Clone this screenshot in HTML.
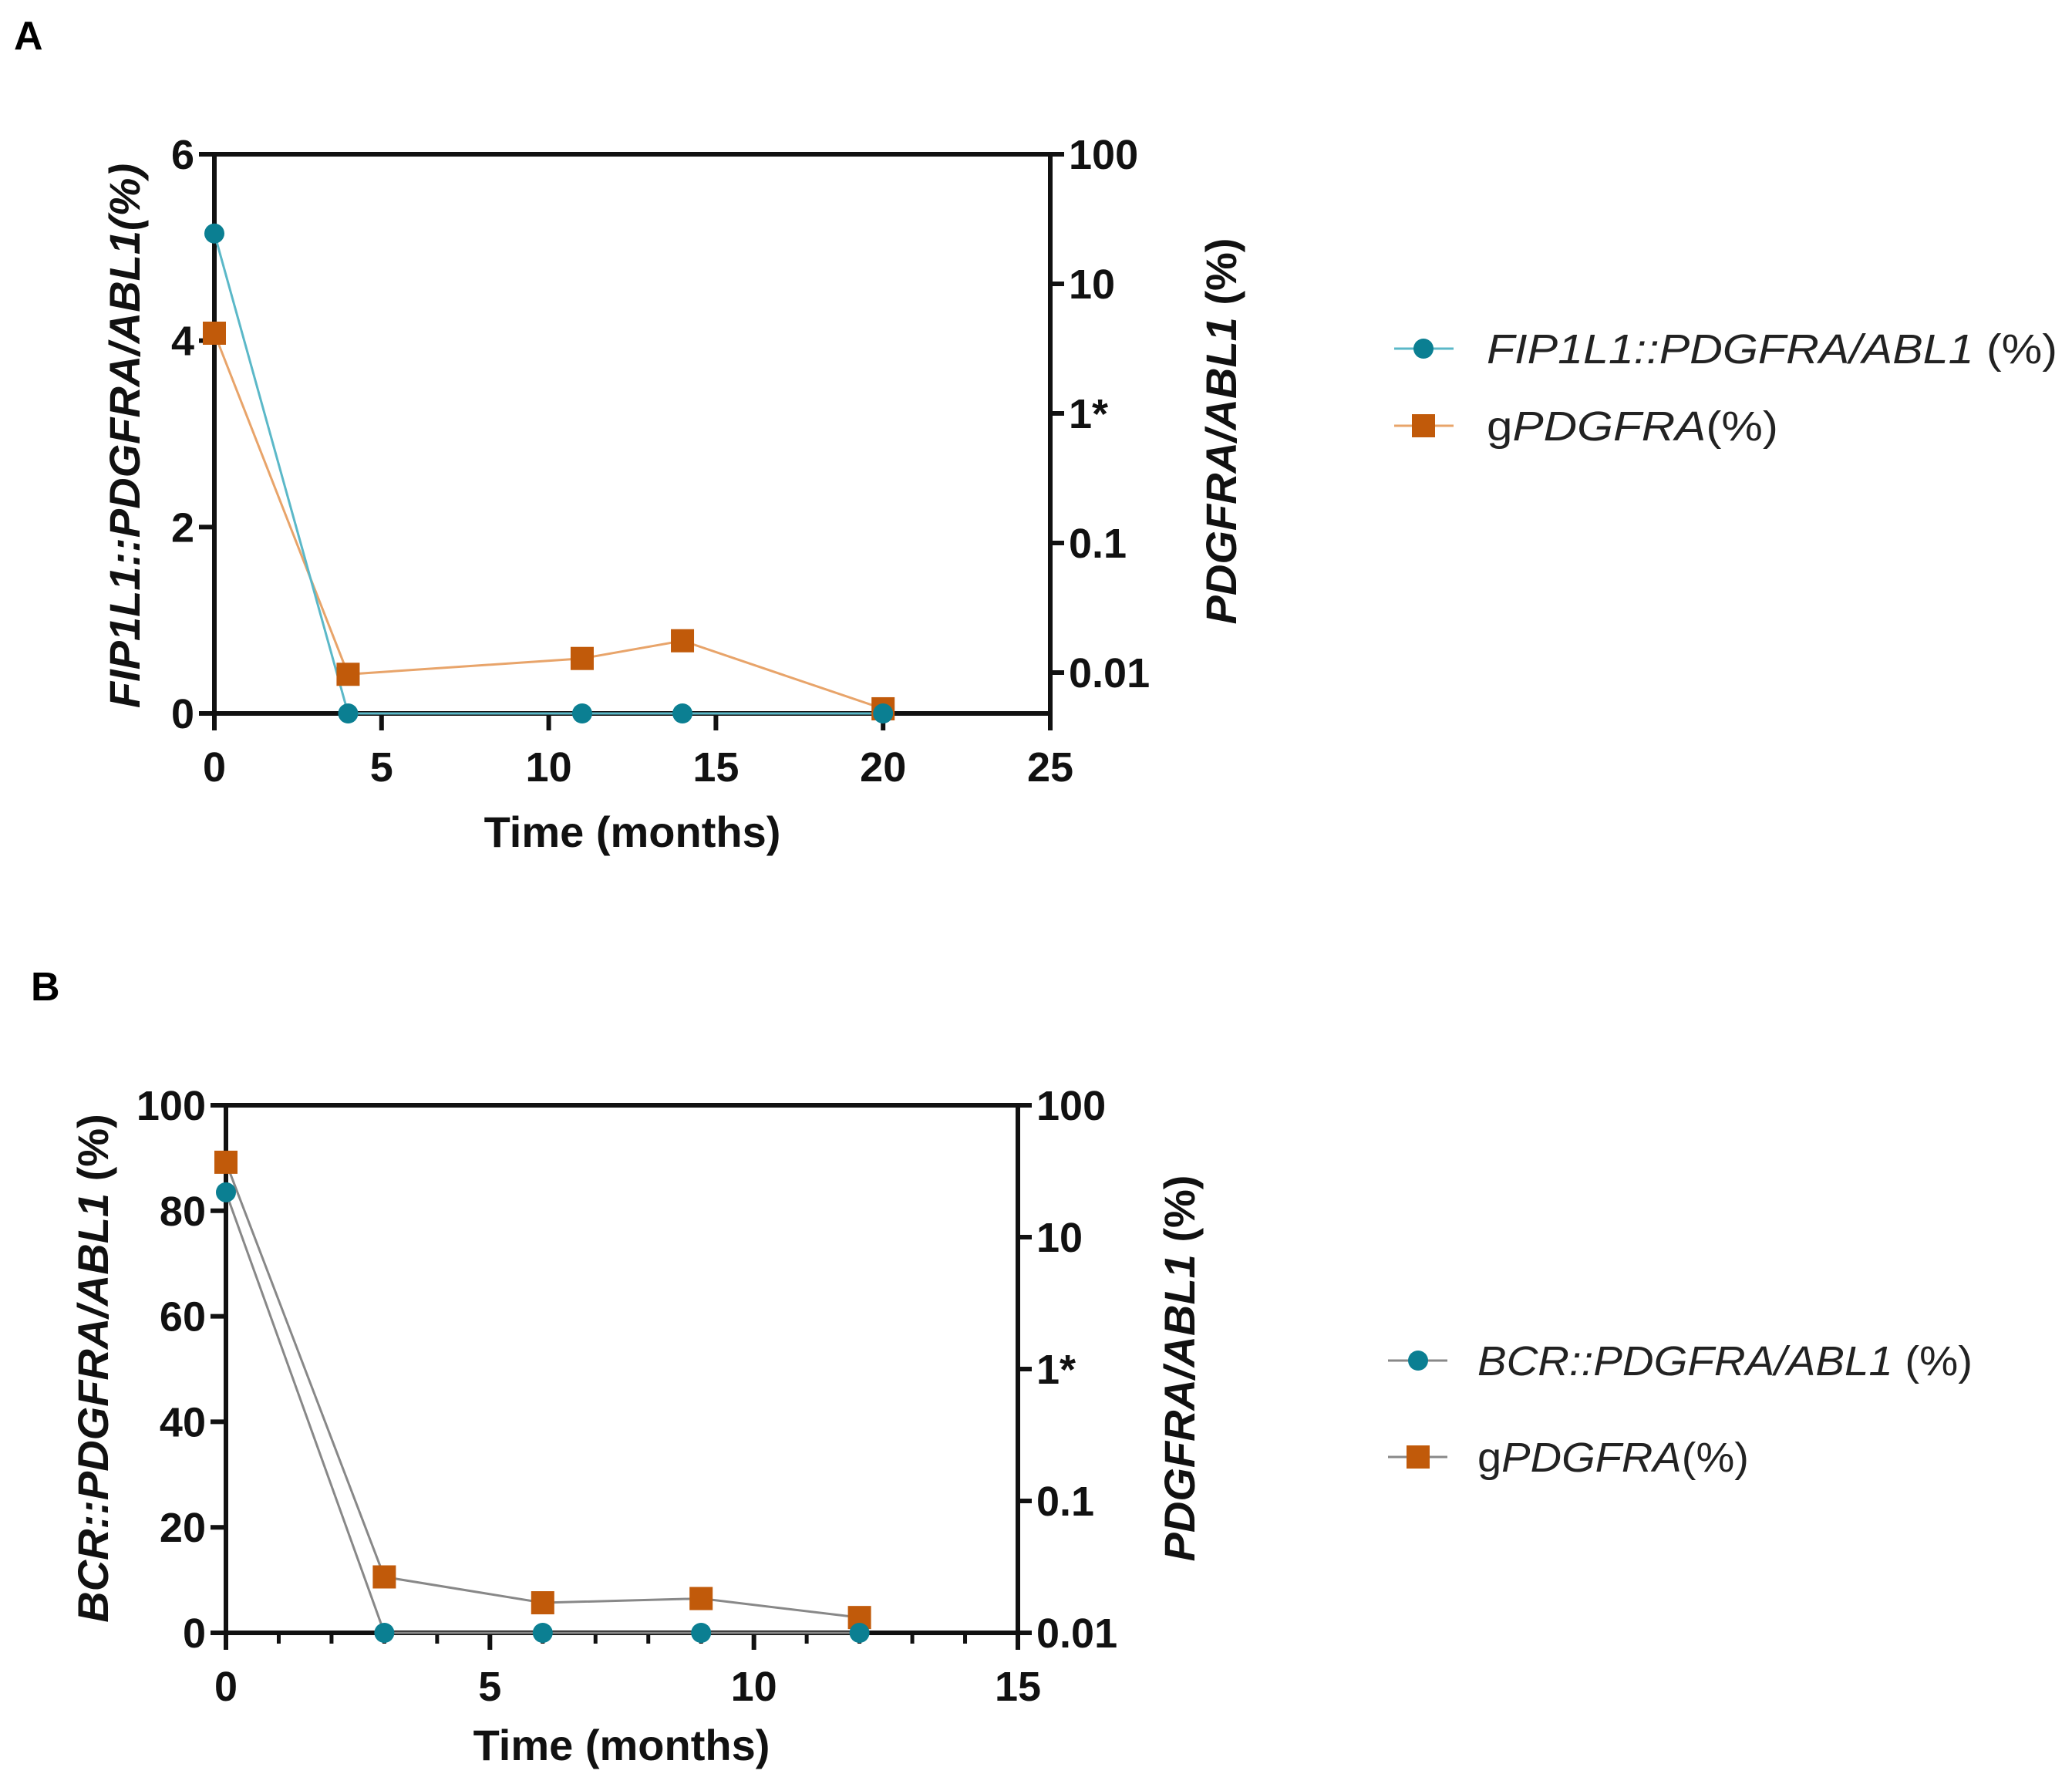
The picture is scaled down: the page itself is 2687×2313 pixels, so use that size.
<!DOCTYPE html>
<html><head><meta charset="utf-8"><style>
html,body{margin:0;padding:0;background:#fff}
svg{display:block}
text{font-family:"Liberation Sans",Arial,sans-serif}
.tk{font-size:54px;font-weight:bold;fill:#111}
.ti{font-size:56px;font-weight:bold;fill:#111}
.lg{font-size:54px;fill:#222}
</style></head><body>
<svg id="svg" width="2687" height="2313" viewBox="0 0 2687 2313" xmlns="http://www.w3.org/2000/svg">
<text x="18" y="64" style="font-size:52px;font-weight:bold">A</text>
<text x="40" y="1297" style="font-size:52px;font-weight:bold">B</text>
<text class="ti" x="820" y="1098" text-anchor="middle">Time (months)</text>
<text class="ti" x="806" y="2282" text-anchor="middle">Time (months)</text>
<text class="ti" transform="translate(181,565) rotate(-90)" text-anchor="middle" font-style="italic">FIP1L1::PDGFRA/ABL1(%)</text>
<text class="ti" transform="translate(1603,559) rotate(-90)" text-anchor="middle"><tspan font-style="italic">PDGFRA/ABL1</tspan> (%)</text>
<text class="ti" transform="translate(140,1774) rotate(-90)" text-anchor="middle"><tspan font-style="italic">BCR::PDGFRA/ABL1</tspan> (%)</text>
<text class="ti" transform="translate(1549,1774) rotate(-90)" text-anchor="middle"><tspan font-style="italic">PDGFRA/ABL1</tspan> (%)</text>
<g>
<line x1="1808" y1="452" x2="1885" y2="452" stroke="#5bb8c8" stroke-width="3"/>
<circle cx="1846" cy="452" r="13" fill="#0b7f92"/>
<text class="lg" x="1928" y="471" textLength="740" lengthAdjust="spacingAndGlyphs" font-style="italic">FIP1L1::PDGFRA/ABL1 <tspan font-style="normal">(%)</tspan></text>
<line x1="1808" y1="552" x2="1885" y2="552" stroke="#e8a46a" stroke-width="3"/>
<rect x="1831" y="537" width="30" height="30" fill="#c15a0a"/>
<text class="lg" x="1928" y="571" textLength="378" lengthAdjust="spacingAndGlyphs">g<tspan font-style="italic">PDGFRA</tspan>(%)</text>
</g>
<g>
<line x1="1800" y1="1764" x2="1877" y2="1764" stroke="#888" stroke-width="3"/>
<circle cx="1839" cy="1764" r="13" fill="#0b7f92"/>
<text class="lg" x="1916" y="1783" textLength="642" lengthAdjust="spacingAndGlyphs" font-style="italic">BCR::PDGFRA/ABL1 <tspan font-style="normal">(%)</tspan></text>
<line x1="1800" y1="1889" x2="1877" y2="1889" stroke="#888" stroke-width="3"/>
<rect x="1824" y="1874" width="30" height="30" fill="#c15a0a"/>
<text class="lg" x="1916" y="1908" textLength="352" lengthAdjust="spacingAndGlyphs">g<tspan font-style="italic">PDGFRA</tspan>(%)</text>
</g>
</svg>
<script>
// Panel A data
const aMonths = [0, 4, 11, 14, 20];
const aFusion = [5.15, 0, 0, 0, 0];
const aGenomic = [4.08, 0.42, 0.59, 0.78, 0.05];
const aXTicks = [0, 5, 10, 15, 20, 25];
const aYTicks = [0, 2, 4, 6];
const aRightTicks = ["100", "10", "1*", "0.1", "0.01"];
// Panel B data
const bMonths = [0, 3, 6, 9, 12];
const bFusion = [83.5, 0, 0, 0, 0];
const bGenomic = [89.2, 10.6, 5.7, 6.5, 2.9];
const bXTicks = [0, 5, 10, 15];
const bYTicks = [0, 20, 40, 60, 80, 100];
const bRightTicks = ["100", "10", "1*", "0.1", "0.01"];

const NS = "http://www.w3.org/2000/svg";
const svg = document.getElementById("svg");
function mk(tag, attrs, parent) {
  const e = document.createElementNS(NS, tag);
  for (const k in attrs) e.setAttribute(k, attrs[k]);
  (parent || svg).appendChild(e);
  return e;
}

function panel(p) {
  const g = mk("g", {});
  
  
  const X = v => p.x0 + (v - p.xmin) / (p.xmax - p.xmin) * (p.x1 - p.x0);
  const Y = v => p.yb - (v - p.ymin) / (p.ymax - p.ymin) * (p.yb - p.yt);
  mk("line", {x1: p.x0, y1: p.yt, x2: p.x1, y2: p.yt, stroke: "#111", "stroke-width": 6}, g);
  mk("line", {x1: p.x0, y1: p.yt - 3, x2: p.x0, y2: p.yb + 20, stroke: "#111", "stroke-width": 6}, g);
  mk("line", {x1: p.x1, y1: p.yt - 3, x2: p.x1, y2: p.yb + 20, stroke: "#111", "stroke-width": 6}, g);
  mk("line", {x1: p.x0 - 20, y1: p.yb, x2: p.x1, y2: p.yb, stroke: "#111", "stroke-width": 6}, g);
  p.xTicks.forEach(t => {
    mk("line", {x1: X(t), y1: p.yb, x2: X(t), y2: p.yb + 22, stroke: "#111", "stroke-width": 6}, g);
    const tx = mk("text", {x: X(t), y: p.yb + 88, class: "tk", "text-anchor": "middle"}, g);
    tx.textContent = t;
    
    
  });
  if (p.minor) {
    for (let m = p.xmin + 1; m < p.xmax; m++) {
      if (p.xTicks.indexOf(m) >= 0) continue;
      mk("line", {x1: X(m), y1: p.yb, x2: X(m), y2: p.yb + 14, stroke: "#111", "stroke-width": 5}, g);
    }
  }
  p.yTicks.forEach(t => {
    mk("line", {x1: p.x0 - 20, y1: Y(t), x2: p.x0, y2: Y(t), stroke: "#111", "stroke-width": 6}, g);
    const tx = mk("text", {x: p.x0 - 26, y: Y(t) + 19, class: "tk", "text-anchor": "end"}, g);
    tx.textContent = t;
    
    
  });
  p.rTicks.forEach((t, i) => {
    const y = p.rTop + i * p.rDec;
    mk("line", {x1: p.x1, y1: y, x2: p.x1 + 18, y2: y, stroke: "#111", "stroke-width": 6}, g);
    const tx = mk("text", {x: p.x1 + 24, y: y + 19, class: "tk"}, g);
    tx.textContent = t;
    
    
  });
  const line = (xs, ys, col) => {
    const pts = xs.map((x, i) => X(x) + "," + Y(ys[i])).join(" ");
    return mk("polyline", {points: pts, fill: "none", stroke: col, "stroke-width": 3}, g);
  };
  const lg = line(p.months, p.genomic, p.gCol);
  
  
  const lf = line(p.months, p.fusion, p.fCol);
  
  
  p.months.forEach((m, i) => {
    const r = mk("rect", {x: X(m) - 15, y: Y(p.genomic[i]) - 15, width: 30, height: 30, fill: "#c15a0a"}, g);
    
    
  });
  p.months.forEach((m, i) => {
    const c = mk("circle", {cx: X(m), cy: Y(p.fusion[i]), r: 13, fill: "#0b7f92"}, g);
    
    
  });
}

panel({name: "chart-a", x0: 278, x1: 1362, yt: 200, yb: 925, xmin: 0, xmax: 25, ymin: 0, ymax: 6,
  xTicks: aXTicks, yTicks: aYTicks, rTicks: aRightTicks, rTop: 200, rDec: 168, minor: false,
  months: aMonths, fusion: aFusion, genomic: aGenomic, fCol: "#5bb8c8", gCol: "#e8a46a"});
panel({name: "chart-b", x0: 293, x1: 1320, yt: 1433, yb: 2117, xmin: 0, xmax: 15, ymin: 0, ymax: 100,
  xTicks: bXTicks, yTicks: bYTicks, rTicks: bRightTicks, rTop: 1433, rDec: 171, minor: true,
  months: bMonths, fusion: bFusion, genomic: bGenomic, fCol: "#888", gCol: "#888"});
</script>
</body></html>
